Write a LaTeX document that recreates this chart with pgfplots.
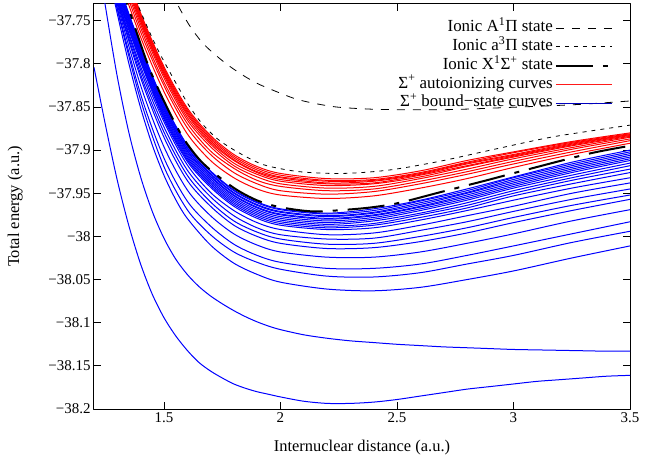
\documentclass[border=0pt]{standalone}
\usepackage{fontspec}
\setmainfont{Liberation Serif}
\usepackage{pgfplots}
\usepackage{pgfplotstable}
\pgfplotsset{compat=1.18}

% autoionizing (red) curves
\pgfplotstableread{
x r1 r2 r3 r4 r5 r6 r7 r8 r9 r10
1.25 -37.605 -37.607 -37.609 -37.611 -37.612 -37.615 -37.618 -37.621 -37.626 -37.632
1.3 -37.664 -37.666 -37.668 -37.670 -37.672 -37.674 -37.677 -37.681 -37.686 -37.692
1.4 -37.741 -37.743 -37.745 -37.747 -37.749 -37.751 -37.754 -37.758 -37.763 -37.769
1.5 -37.803 -37.805 -37.807 -37.809 -37.811 -37.813 -37.816 -37.821 -37.825 -37.832
1.6 -37.851 -37.853 -37.855 -37.857 -37.859 -37.862 -37.865 -37.869 -37.874 -37.881
1.7 -37.883 -37.885 -37.887 -37.889 -37.891 -37.893 -37.896 -37.901 -37.905 -37.912
1.8 -37.905 -37.907 -37.909 -37.911 -37.912 -37.915 -37.918 -37.921 -37.926 -37.932
1.9 -37.919 -37.921 -37.923 -37.925 -37.926 -37.928 -37.931 -37.935 -37.939 -37.945
2.0 -37.927 -37.929 -37.931 -37.932 -37.934 -37.936 -37.939 -37.942 -37.947 -37.952
2.2 -37.933 -37.935 -37.936 -37.938 -37.939 -37.941 -37.944 -37.947 -37.951 -37.956
2.4 -37.932 -37.934 -37.935 -37.936 -37.938 -37.939 -37.942 -37.945 -37.948 -37.953
2.6 -37.924 -37.926 -37.927 -37.928 -37.929 -37.931 -37.933 -37.936 -37.939 -37.944
2.8 -37.912 -37.914 -37.915 -37.916 -37.918 -37.919 -37.922 -37.925 -37.928 -37.933
3.0 -37.902 -37.903 -37.905 -37.906 -37.907 -37.908 -37.910 -37.913 -37.916 -37.920
3.25 -37.890 -37.891 -37.892 -37.893 -37.894 -37.895 -37.897 -37.899 -37.902 -37.905
3.5 -37.880 -37.881 -37.882 -37.882 -37.883 -37.884 -37.885 -37.887 -37.889 -37.892
}\tblred

% dense bound-state (blue) curves
\pgfplotstableread{
x c1 c2 c3 c4 c5 c6 c7 c8 c9 c10 c11 c12
1.25 -37.642 -37.643 -37.645 -37.646 -37.648 -37.649 -37.651 -37.653 -37.655 -37.657 -37.659 -37.661
1.3 -37.702 -37.703 -37.705 -37.706 -37.708 -37.709 -37.711 -37.713 -37.715 -37.717 -37.719 -37.721
1.4 -37.779 -37.780 -37.782 -37.783 -37.785 -37.786 -37.788 -37.790 -37.792 -37.794 -37.796 -37.798
1.5 -37.845 -37.846 -37.848 -37.849 -37.851 -37.852 -37.854 -37.856 -37.858 -37.860 -37.862 -37.864
1.6 -37.894 -37.895 -37.897 -37.898 -37.900 -37.901 -37.903 -37.905 -37.907 -37.909 -37.911 -37.913
1.7 -37.924 -37.925 -37.927 -37.928 -37.930 -37.931 -37.933 -37.935 -37.937 -37.939 -37.941 -37.943
1.8 -37.946 -37.947 -37.949 -37.950 -37.952 -37.953 -37.955 -37.957 -37.959 -37.961 -37.963 -37.965
1.9 -37.960 -37.961 -37.963 -37.964 -37.966 -37.967 -37.969 -37.971 -37.973 -37.975 -37.977 -37.979
2.0 -37.968 -37.969 -37.971 -37.972 -37.974 -37.975 -37.977 -37.979 -37.981 -37.983 -37.985 -37.987
2.2 -37.973 -37.974 -37.976 -37.977 -37.979 -37.980 -37.982 -37.984 -37.986 -37.988 -37.990 -37.992
2.4 -37.968 -37.970 -37.972 -37.973 -37.975 -37.976 -37.978 -37.980 -37.982 -37.985 -37.987 -37.990
2.6 -37.958 -37.959 -37.961 -37.963 -37.965 -37.966 -37.968 -37.970 -37.973 -37.975 -37.978 -37.981
2.8 -37.945 -37.947 -37.949 -37.950 -37.952 -37.954 -37.956 -37.958 -37.961 -37.964 -37.967 -37.970
3.0 -37.931 -37.932 -37.934 -37.936 -37.938 -37.940 -37.942 -37.944 -37.947 -37.950 -37.953 -37.958
3.25 -37.914 -37.916 -37.918 -37.920 -37.922 -37.924 -37.926 -37.929 -37.932 -37.935 -37.939 -37.944
3.5 -37.900 -37.902 -37.904 -37.906 -37.908 -37.910 -37.912 -37.915 -37.918 -37.922 -37.926 -37.932
}\tblblue

% sparser bound-state (blue) curves
\pgfplotstableread{
x s1 s2 s3 s4 s5 s6 s7
1.25 -37.676 -37.673 -37.670 -37.667 -37.666 -37.664 -37.663
1.3 -37.737 -37.735 -37.731 -37.728 -37.726 -37.724 -37.723
1.4 -37.842 -37.835 -37.825 -37.816 -37.812 -37.807 -37.803
1.5 -37.919 -37.909 -37.896 -37.885 -37.879 -37.873 -37.867
1.6 -37.969 -37.959 -37.946 -37.935 -37.929 -37.923 -37.917
1.7 -37.998 -37.988 -37.976 -37.965 -37.960 -37.954 -37.949
1.8 -38.018 -38.009 -37.997 -37.987 -37.982 -37.976 -37.970
1.9 -38.030 -38.022 -38.010 -38.000 -37.995 -37.990 -37.984
2.0 -38.038 -38.030 -38.018 -38.008 -38.003 -37.998 -37.992
2.2 -38.046 -38.037 -38.024 -38.014 -38.009 -38.003 -37.998
2.4 -38.047 -38.037 -38.024 -38.013 -38.008 -38.002 -37.996
2.6 -38.042 -38.032 -38.018 -38.006 -38.000 -37.993 -37.987
2.8 -38.032 -38.022 -38.008 -37.996 -37.990 -37.983 -37.976
3.0 -38.022 -38.011 -37.997 -37.984 -37.978 -37.971 -37.965
3.25 -38.007 -37.997 -37.982 -37.970 -37.964 -37.957 -37.950
3.5 -37.994 -37.983 -37.969 -37.957 -37.952 -37.945 -37.938
}\tblsparse

\begin{document}
\begin{tikzpicture}
\begin{axis}[
  scale only axis, width=536bp, height=405bp,
  xmin=1.2, xmax=3.5, ymin=-38.2, ymax=-37.7306,
  xtick={1.5,2,2.5,3,3.5},
  xticklabels={1.5,2,2.5,3,3.5},
  ytick={-38.2,-38.15,-38.1,-38.05,-38,-37.95,-37.9,-37.85,-37.8,-37.75},
  yticklabels={−38.2,−38.15,−38.1,−38.05,−38,−37.95,−37.9,−37.85,−37.8,−37.75},
  tick align=inside, major tick length=7bp,
  tick style={black, line width=0.8bp},
  axis line style={line width=1bp},
  tick label style={font=\fontsize{15}{18}\selectfont},
  label style={font=\fontsize{16.5}{19}\selectfont},
  xlabel={Internuclear distance (a.u.)},
  ylabel={Total energy (a.u.)},
  xlabel style={at={(axis description cs:0.5,-0.095)}, anchor=center},
  ylabel style={at={(axis description cs:-0.147,0.5)}, anchor=center, rotate=0},
  legend cell align=right, legend plot pos=right,
  legend image code/.code={\draw[#1] (0bp,0bp) -- (56bp,0bp);},
  legend style={draw=none, fill=none, at={(axis description cs:1,1)}, anchor=north east,
    xshift=-14bp, yshift=-12.5bp, row sep=0.3bp,
    nodes={font=\fontsize{17}{19}\selectfont, inner sep=2bp, text height=11bp, text depth=3.5bp}},
  line join=round,
]
\addlegendimage{black, line width=0.8bp, dash pattern=on 8bp off 8bp}
\addlegendentry{Ionic A\textsuperscript{1}Π state}
\addlegendimage{black, line width=0.8bp, dash pattern=on 4bp off 5bp}
\addlegendentry{Ionic a\textsuperscript{3}Π state}
\addlegendimage{black, line width=2bp, dash pattern=on 37bp off 10bp on 5bp off 10bp}
\addlegendentry{Ionic X\textsuperscript{1}Σ\textsuperscript{+} state}
\addlegendimage{red!90!white, line width=1.3bp}
\addlegendentry{Σ\textsuperscript{+} autoionizing curves}
\addlegendimage{blue!75!black, line width=1.2bp}
\addlegendentry{Σ\textsuperscript{+} bound−state curves}

\pgfplotsinvokeforeach{1,...,10}{
  \addplot[red, line width=1bp, smooth, forget plot] table[x=x, y=r#1]{\tblred};
}
\pgfplotsinvokeforeach{1,...,12}{
  \addplot[blue, line width=1bp, smooth, forget plot] table[x=x, y=c#1]{\tblblue};
}
\pgfplotsinvokeforeach{1,...,7}{
  \addplot[blue, line width=1bp, smooth, forget plot] table[x=x, y=s#1]{\tblsparse};
}
% B3
\addplot[blue, line width=1bp, smooth, forget plot] coordinates {
(1.25,-37.680) (1.3,-37.742) (1.35,-37.800) (1.4,-37.851) (1.45,-37.894) (1.5,-37.929)
(1.55,-37.957) (1.6,-37.979) (1.7,-38.010) (1.8,-38.031) (1.9,-38.044) (2.0,-38.053)
(2.2,-38.061) (2.4,-38.063) (2.6,-38.059) (2.8,-38.050) (3.0,-38.040) (3.25,-38.025) (3.5,-38.011)};
% B2
\addplot[blue, line width=1bp, smooth, forget plot] coordinates {
(1.2,-37.650) (1.25,-37.735) (1.3,-37.815) (1.35,-37.880) (1.4,-37.931) (1.45,-37.971)
(1.5,-38.002) (1.55,-38.026) (1.6,-38.044) (1.65,-38.058) (1.7,-38.069) (1.75,-38.078)
(1.8,-38.086) (1.85,-38.093) (1.9,-38.099) (1.95,-38.104) (2.0,-38.108) (2.1,-38.114)
(2.2,-38.118) (2.3,-38.121) (2.4,-38.123) (2.5,-38.125) (2.6,-38.1265) (2.7,-38.128)
(2.8,-38.129) (2.9,-38.130) (3.0,-38.131) (3.1,-38.1315) (3.2,-38.132) (3.3,-38.1325)
(3.4,-38.133) (3.5,-38.133)};
% B1 (ground state)
\addplot[blue, line width=1bp, smooth, forget plot] coordinates {
(1.2,-37.804) (1.25,-37.872) (1.3,-37.935) (1.35,-37.988) (1.4,-38.032) (1.45,-38.067)
(1.5,-38.094) (1.55,-38.115) (1.6,-38.132) (1.65,-38.146) (1.7,-38.156) (1.75,-38.164)
(1.8,-38.171) (1.85,-38.176) (1.9,-38.180) (1.95,-38.183) (2.0,-38.186) (2.1,-38.191)
(2.2,-38.1935) (2.3,-38.1935) (2.4,-38.192) (2.5,-38.189) (2.6,-38.185) (2.7,-38.181)
(2.8,-38.177) (2.9,-38.174) (3.0,-38.171) (3.1,-38.168) (3.2,-38.166) (3.3,-38.164)
(3.4,-38.162) (3.5,-38.161)};
% Ionic A1Pi
\addplot[black, line width=0.8bp, dash pattern=on 8bp off 8bp, smooth, forget plot] coordinates {
(1.50,-37.700) (1.560,-37.732) (1.611,-37.756) (1.667,-37.776) (1.727,-37.791) (1.783,-37.803)
(1.85,-37.815) (1.911,-37.824) (2.0,-37.834) (2.070,-37.841) (2.15,-37.846) (2.241,-37.850)
(2.35,-37.852) (2.468,-37.853) (2.725,-37.853) (3.025,-37.850) (3.282,-37.847) (3.5,-37.843)};
% Ionic a3Pi
\addplot[black, line width=0.8bp, dash pattern=on 4bp off 5bp, smooth, forget plot] coordinates {
(1.30,-37.655) (1.35,-37.703) (1.384,-37.729) (1.45,-37.770) (1.5,-37.797) (1.6,-37.845)
(1.663,-37.869) (1.73,-37.887) (1.796,-37.899) (1.87,-37.910) (1.941,-37.918) (2.083,-37.925)
(2.267,-37.927) (2.468,-37.923) (2.682,-37.913) (2.884,-37.901) (3.141,-37.886) (3.3,-37.879)
(3.5,-37.871)};
% Ionic X1Sigma+
\addplot[black, line width=2bp, dash pattern=on 37bp off 10bp on 5bp off 10bp, smooth, forget plot] coordinates {
(1.30,-37.690) (1.341,-37.729) (1.4,-37.777) (1.44,-37.807) (1.5,-37.843) (1.581,-37.885)
(1.667,-37.915) (1.796,-37.943) (1.898,-37.958) (1.997,-37.966) (2.138,-37.971) (2.284,-37.969)
(2.4,-37.966) (2.511,-37.961) (2.682,-37.949) (2.884,-37.935) (3.038,-37.924) (3.325,-37.904)
(3.5,-37.895)};
\end{axis}
\pgfresetboundingbox
\path[use as bounding box] ([shift={(-94bp,-48bp)}]current axis.south west) rectangle ([shift={(35bp,4bp)}]current axis.north east);
\end{tikzpicture}
\end{document}
